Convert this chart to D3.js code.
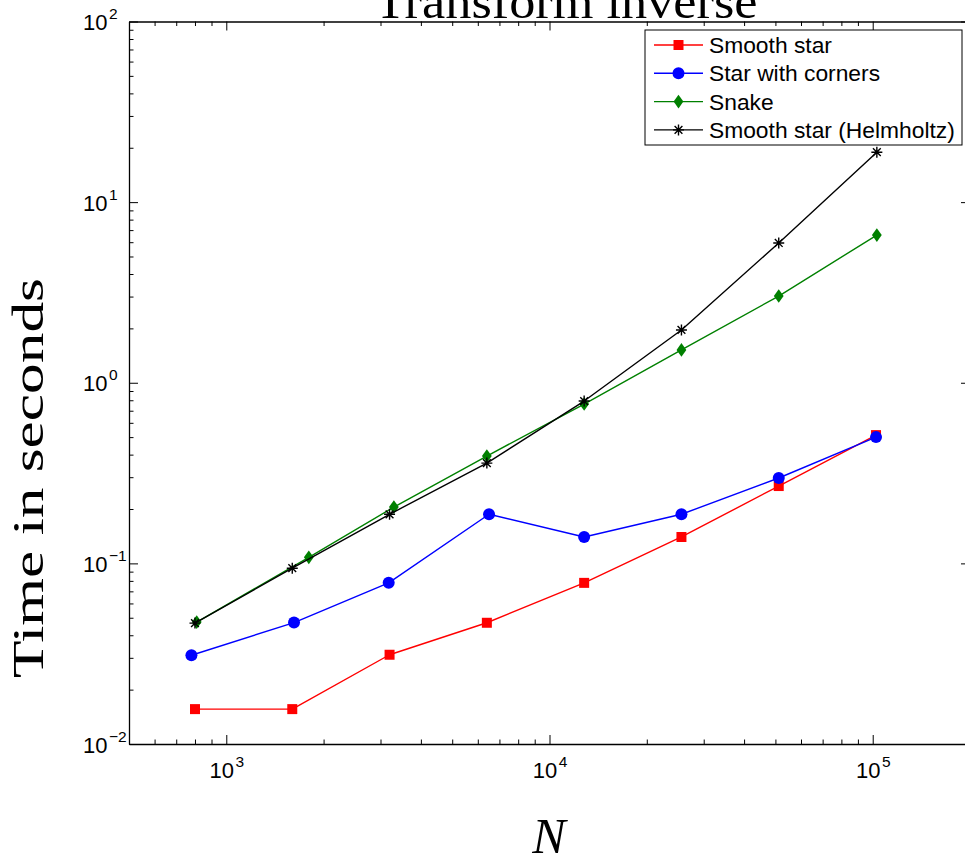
<!DOCTYPE html>
<html>
<head>
<meta charset="utf-8">
<script src="https://cdn.jsdelivr.net/npm/d3@7"></script>
<style>
  body { margin: 0; background: #fff; }
  svg { display: block; }
</style>
</head>
<body>
<svg width="965" height="860"></svg>
<script>
const seriesNames = ['Smooth star', 'Star with corners', 'Snake', 'Smooth star (Helmholtz)']
const seriesColors = ['#ff0000', '#0000ff', '#008000', '#000000']
const seriesMarkers = ['square', 'circle', 'diamond', 'asterisk']

// N for each series
const nSmooth = [800, 1600, 3200, 6400, 12800, 25600, 51200, 102400]
const nCorners = [780, 1620, 3180, 6500, 12800, 25600, 51200, 102400]
const nSnake = [810, 1800, 3300, 6400, 12800, 25600, 51200, 103000]
const nHelmholtz = [800, 1600, 3200, 6400, 12800, 25600, 51200, 103000]

// time in seconds
const tSmooth = [0.0156, 0.0156, 0.0312, 0.0469, 0.078, 0.140, 0.268, 0.513]
const tCorners = [0.031, 0.047, 0.078, 0.187, 0.140, 0.187, 0.297, 0.50]
const tSnake = [0.0473, 0.108, 0.205, 0.393, 0.762, 1.52, 3.02, 6.57]
const tHelmholtz = [0.0467, 0.094, 0.187, 0.359, 0.792, 1.96, 5.94, 18.9]

const xDomain = [500, 2e5]
const yDomain = [1e-2, 1e2]
const xTickExponents = ['3', '4', '5']
const yTickExponents = ['\u22122', '\u22121', '0', '1', '2']

const titleText = 'Transform inverse'
const yLabelText = 'Time in seconds'
const xLabelText = 'N'

const zip = (xs, ys) => xs.map((v, i) => [v, ys[i]])
const series = [
  zip(nSmooth, tSmooth),
  zip(nCorners, tCorners),
  zip(nSnake, tSnake),
  zip(nHelmholtz, tHelmholtz),
]

const box = { left: 129, right: 970, top: 21.5, bottom: 744 }
const sansFont = '"Liberation Sans", Arial, Helvetica, sans-serif'
const serifFont = '"Liberation Serif", "Times New Roman", serif'

const svg = d3.select('svg')

const x = d3.scaleLog().domain(xDomain).range([box.left, box.right])
const y = d3.scaleLog().domain(yDomain).range([box.bottom, box.top])

const isDecade = v => Math.abs(Math.log10(v) - Math.round(Math.log10(v))) < 1e-9
const majors = scale => scale.ticks().filter(isDecade)
const minors = scale => scale.ticks().filter(v => !isDecade(v))

// marker shapes
const diamond = {
  draw(ctx, size) {
    const h = Math.sqrt(size) * 0.68
    const w = h * 0.72
    ctx.moveTo(0, -h)
    ctx.lineTo(w, 0)
    ctx.lineTo(0, h)
    ctx.lineTo(-w, 0)
    ctx.closePath()
  },
}
const asterisk = {
  draw(ctx, size) {
    const r = Math.sqrt(size) / 2
    const d = r * Math.SQRT1_2
    ctx.moveTo(0, -r); ctx.lineTo(0, r)
    ctx.moveTo(-r, 0); ctx.lineTo(r, 0)
    ctx.moveTo(-d, -d); ctx.lineTo(d, d)
    ctx.moveTo(-d, d); ctx.lineTo(d, -d)
  },
}
const markerTypes = {
  square: [d3.symbolSquare, 100],
  circle: [d3.symbolCircle, Math.PI * 6 * 6],
  diamond: [diamond, 100],
  asterisk: [asterisk, 121],
}

function marker(sel, kind, color) {
  const [type, size] = markerTypes[kind]
  sel
    .attr('d', d3.symbol(type, size)())
    .attr('fill', kind === 'asterisk' ? 'none' : color)
    .attr('stroke', color)
    .attr('stroke-width', kind === 'asterisk' ? 1.4 : 0)
}

function styleAxis(g) {
  g.attr('font-family', sansFont).attr('font-size', 22)
  g.select('.domain').attr('stroke', '#000').attr('stroke-width', 1.3)
  g.selectAll('.tick line').attr('stroke', '#000').attr('stroke-width', 1)
}

function drawAxis(axisFn, scale, translate, withLabels) {
  const noLabel = () => ''
  const minor = svg.append('g')
    .attr('transform', translate)
    .call(axisFn(scale).tickValues(minors(scale)).tickSize(-4.5).tickSizeOuter(0).tickFormat(noLabel))
  styleAxis(minor)
  minor.select('.domain').remove()
  const major = svg.append('g')
    .attr('transform', translate)
    .call(axisFn(scale).tickValues(majors(scale)).tickSize(-9).tickSizeOuter(0).tickFormat(noLabel))
  styleAxis(major)
  if (!withLabels) major.selectAll('.tick text').remove()
  return major
}

function powerLabel(text, exponent) {
  text.text(null)
  text.append('tspan').text('10')
  text.append('tspan')
    .attr('dx', 1.5)
    .attr('dy', -11)
    .attr('font-size', 15.5)
    .text(exponent)
}

// axes (box with inward ticks)
const bottomAxis = drawAxis(d3.axisBottom, x, `translate(0,${box.bottom})`, true)
bottomAxis.selectAll('.tick text')
  .attr('y', 34)
  .attr('dy', 0)
  .attr('fill', '#000')
  .attr('text-anchor', 'middle')
  .each(function (d, i) { powerLabel(d3.select(this), xTickExponents[i]) })

const leftAxis = drawAxis(d3.axisLeft, y, `translate(${box.left},0)`, true)
leftAxis.selectAll('.tick text')
  .attr('x', 83 - box.left)
  .attr('dy', 8)
  .attr('fill', '#000')
  .attr('text-anchor', 'start')
  .each(function (d, i) { powerLabel(d3.select(this), yTickExponents[i]) })

drawAxis(d3.axisTop, x, `translate(0,${box.top})`, false)
drawAxis(d3.axisRight, y, `translate(${box.right},0)`, false)

// data
const line = d3.line().x(d => x(d[0])).y(d => y(d[1]))

series.forEach((data, i) => {
  const g = svg.append('g').attr('class', 'series')
  g.append('path')
    .datum(data)
    .attr('fill', 'none')
    .attr('stroke', seriesColors[i])
    .attr('stroke-width', 1.4)
    .attr('stroke-linejoin', 'round')
    .attr('d', line)
  g.selectAll('path.marker')
    .data(data)
    .join('path')
    .attr('class', 'marker')
    .attr('transform', d => `translate(${x(d[0])},${y(d[1])})`)
    .call(marker, seriesMarkers[i], seriesColors[i])
})

// legend
const legend = svg.append('g').attr('transform', 'translate(645,30)')
legend.append('rect')
  .attr('width', 317)
  .attr('height', 115)
  .attr('fill', '#fff')
  .attr('stroke', '#000')
  .attr('stroke-width', 1)

const rows = legend.selectAll('g.row')
  .data(seriesNames)
  .join('g')
  .attr('class', 'row')
  .attr('transform', (d, i) => `translate(0,${15 + i * 28.3})`)

rows.append('line')
  .attr('x1', 9)
  .attr('x2', 58)
  .attr('stroke', (d, i) => seriesColors[i])
  .attr('stroke-width', 1.4)
rows.append('path')
  .attr('transform', 'translate(33.5,0)')
  .each(function (d, i) { d3.select(this).call(marker, seriesMarkers[i], seriesColors[i]) })
rows.append('text')
  .attr('x', 64)
  .attr('y', 8)
  .attr('font-family', sansFont)
  .attr('font-size', 22.8)
  .text(d => d)

// title and axis labels
svg.append('text')
  .attr('x', 566)
  .attr('y', 18)
  .attr('text-anchor', 'middle')
  .attr('font-family', serifFont)
  .attr('font-size', 48)
  .attr('textLength', 383)
  .attr('lengthAdjust', 'spacingAndGlyphs')
  .text(titleText)

svg.append('text')
  .attr('transform', 'translate(43,478) rotate(-90)')
  .attr('text-anchor', 'middle')
  .attr('font-family', serifFont)
  .attr('font-size', 44)
  .attr('textLength', 400)
  .attr('lengthAdjust', 'spacingAndGlyphs')
  .text(yLabelText)

svg.append('text')
  .attr('x', 549)
  .attr('y', 853)
  .attr('text-anchor', 'middle')
  .attr('font-family', serifFont)
  .attr('font-style', 'italic')
  .attr('font-size', 50)
  .text(xLabelText)
</script>
</body>
</html>
